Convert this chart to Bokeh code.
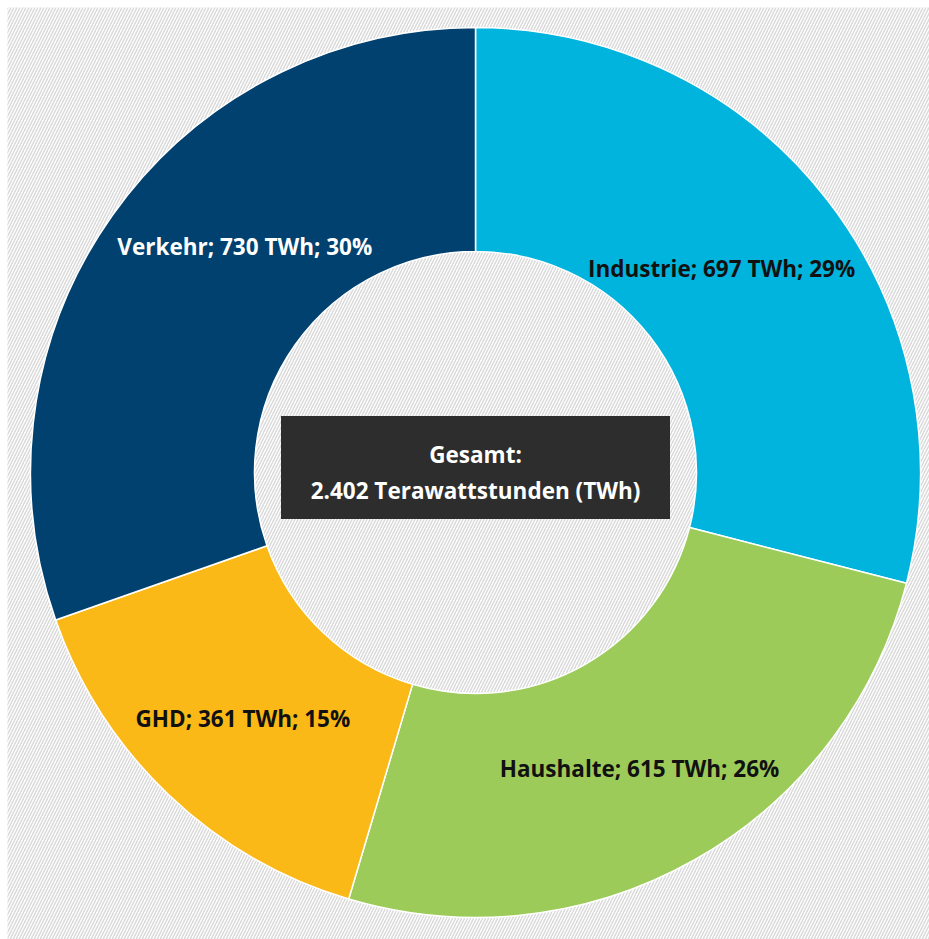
import math
from bokeh.plotting import figure
from bokeh.models import Range1d, ColumnDataSource
from bokeh.core.properties import value
from bokeh.embed import file_html
from bokeh.resources import INLINE

# ---- data ----
categories = ["Industrie", "Haushalte", "GHD", "Verkehr"]
twh = [697, 615, 361, 730]
percent = [29, 26, 15, 30]
total_label = "2.402 Terawattstunden (TWh)"

# ---- styles ----
colors = ["#00b4de", "#9ccb59", "#fbb917", "#00416f"]
text_colors = ["#111111", "#111111", "#111111", "#ffffff"]
# label nudges (pixels, x right / y down) relative to ring midpoint
nudge_x = [-17, 0, -3, 41]
nudge_y = [0, 6, 5, -33]

W, H = 929, 939
cx, cy_px = 475, 472
r_out, r_in = 445, 221

p = figure(width=W, height=H, output_backend="svg", toolbar_location=None,
           x_range=Range1d(0, W), y_range=Range1d(0, H),
           min_border=0, min_border_left=0, min_border_right=0,
           min_border_top=0, min_border_bottom=0)
p.axis.visible = False
p.grid.visible = False
p.outline_line_color = None
p.background_fill_color = "white"
p.border_fill_color = "white"

# hatched background panel
p.quad(left=[7], right=[W], bottom=[0], top=[H - 7],
       fill_color="white", line_color=None,
       hatch_pattern="right_diagonal_line", hatch_color="#dadada",
       hatch_scale=6, hatch_weight=1.5)

cy = H - cy_px
tot = sum(twh)
starts, ends, lx, ly, labels = [], [], [], [], []
cum = 0.0
r_mid = (r_out + r_in) / 2
for i, v in enumerate(twh):
    f0 = cum / tot
    cum += v
    f1 = cum / tot
    starts.append(math.pi / 2 - f0 * 2 * math.pi)
    ends.append(math.pi / 2 - f1 * 2 * math.pi)
    mid = (f0 + f1) / 2 * 2 * math.pi
    lx.append(cx + r_mid * math.sin(mid) + nudge_x[i])
    ly.append(cy + r_mid * math.cos(mid) - nudge_y[i])
    labels.append(f"{categories[i]}; {v} TWh; {percent[i]}%")

src = ColumnDataSource(dict(start=starts, end=ends, color=colors,
                            x=lx, y=ly, label=labels, tcolor=text_colors))

p.annular_wedge(x=cx, y=cy, inner_radius=r_in, outer_radius=r_out,
                start_angle="start", end_angle="end", direction="clock",
                fill_color="color", line_color="white", line_width=1.5,
                source=src)

p.text(x="x", y="y", text="label", text_color="tcolor", source=src,
       text_font=value("Open Sans"), text_font_style="bold",
       text_font_size="22.5px", text_align="center", text_baseline="middle")

# center box
p.rect(x=[cx], y=[cy + 5], width=389, height=103,
       fill_color="#2d2d2d", line_color=None)
p.text(x=[cx, cx], y=[cy + 18, cy - 18], text=["Gesamt:", total_label],
       text_color="white", text_font=value("Open Sans"),
       text_font_style="bold", text_font_size="22.5px",
       text_align="center", text_baseline="middle")

open("out.html", "w").write(file_html(p, INLINE))
